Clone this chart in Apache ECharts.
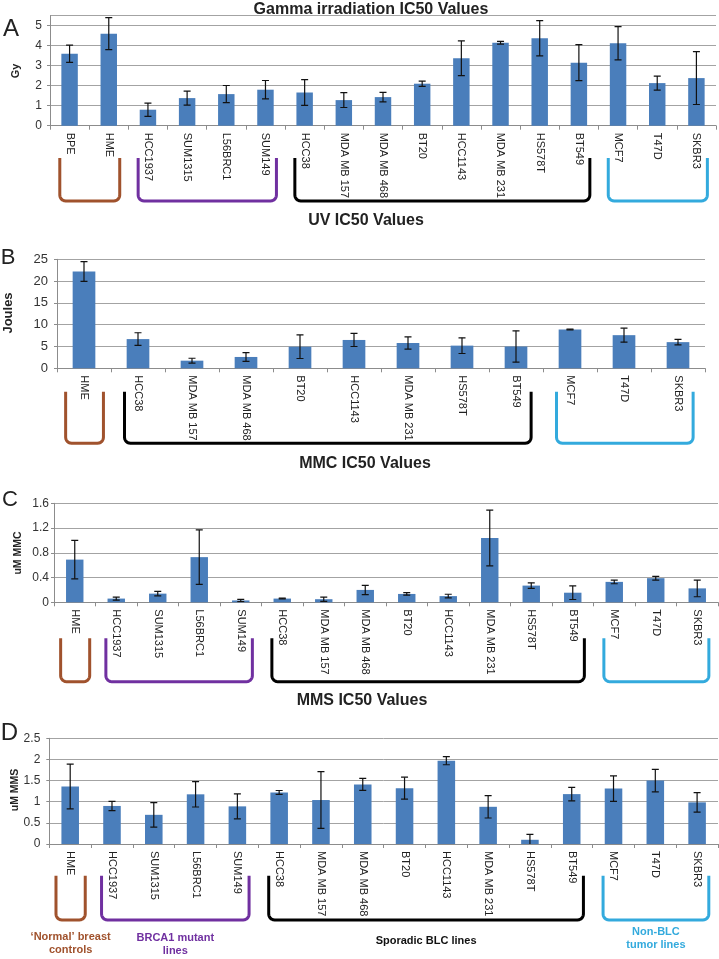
<!DOCTYPE html>
<html>
<head>
<meta charset="utf-8">
<script src="https://cdn.jsdelivr.net/npm/echarts@6/dist/echarts.min.js"></script>
<style>
  html, body { margin: 0; padding: 0; background: #ffffff; }
  #chart { width: 719px; height: 959px; }
</style>
</head>
<body>
<div id="chart"></div>
<script>
// ---------------- DATA ----------------
const gammaCats = ['BPE', 'HME', 'HCC1937', 'SUM1315', 'L56BRC1', 'SUM149', 'HCC38', 'MDA MB 157', 'MDA MB 468', 'BT20', 'HCC1143', 'MDA MB 231', 'HS578T', 'BT549', 'MCF7', 'T47D', 'SKBR3'];
const gammaVals = [3.6, 4.6, 0.8, 1.38, 1.58, 1.8, 1.66, 1.28, 1.43, 2.1, 3.37, 4.15, 4.37, 3.15, 4.12, 2.13, 2.38];
const gammaErr  = [0.43, 0.8, 0.33, 0.35, 0.43, 0.46, 0.64, 0.37, 0.24, 0.13, 0.87, 0.07, 0.88, 0.9, 0.83, 0.35, 1.32];

const uvCats = ['HME', 'HCC38', 'MDA MB 157', 'MDA MB 468', 'BT20', 'HCC1143', 'MDA MB 231', 'HS578T', 'BT549', 'MCF7', 'T47D', 'SKBR3'];
const uvVals = [22.2, 6.7, 1.75, 2.6, 4.95, 6.5, 5.8, 5.2, 5.0, 8.9, 7.6, 6.0];
const uvErr  = [2.25, 1.45, 0.55, 1.0, 2.7, 1.5, 1.4, 1.8, 3.6, 0.1, 1.6, 0.65];

const mmcCats = ['HME', 'HCC1937', 'SUM1315', 'L56BRC1', 'SUM149', 'HCC38', 'MDA MB 157', 'MDA MB 468', 'BT20', 'HCC1143', 'MDA MB 231', 'HS578T', 'BT549', 'MCF7', 'T47D', 'SKBR3'];
const mmcVals = [0.69, 0.06, 0.14, 0.73, 0.03, 0.06, 0.05, 0.2, 0.135, 0.1, 1.04, 0.27, 0.155, 0.33, 0.39, 0.225];
const mmcErr  = [0.31, 0.025, 0.035, 0.44, 0.018, 0.006, 0.035, 0.075, 0.02, 0.03, 0.45, 0.045, 0.11, 0.03, 0.03, 0.135];

const mmsCats = ['HME', 'HCC1937', 'SUM1315', 'L56BRC1', 'SUM149', 'HCC38', 'MDA MB 157', 'MDA MB 468', 'BT20', 'HCC1143', 'MDA MB 231', 'HS578T', 'BT549', 'MCF7', 'T47D', 'SKBR3'];
const mmsVals = [1.36, 0.9, 0.69, 1.175, 0.89, 1.22, 1.04, 1.41, 1.32, 1.97, 0.88, 0.1, 1.18, 1.31, 1.5, 0.985];
const mmsErr  = [0.53, 0.11, 0.29, 0.3, 0.295, 0.045, 0.67, 0.14, 0.26, 0.095, 0.265, 0.13, 0.16, 0.3, 0.265, 0.23];

const panelTitles = ['Gamma irradiation IC50 Values', 'UV IC50 Values', 'MMC IC50 Values', 'MMS IC50 Values'];
const panelLetters = ['A', 'B', 'C', 'D'];
const yNames = ['Gy', 'Joules', 'uM MMC', 'uM MMS'];
const yMax = [5.5, 25, 1.6, 2.5];
const yInterval = [1, 5, 0.4, 0.5];

const groupLabels = ['\u2018Normal\u2019 breast\ncontrols', 'BRCA1 mutant\nlines', 'Sporadic BLC lines', 'Non-BLC\ntumor lines'];
const groupMembers = [
  ['BPE', 'HME'],
  ['HCC1937', 'SUM1315', 'L56BRC1', 'SUM149'],
  ['HCC38', 'MDA MB 157', 'MDA MB 468', 'BT20', 'HCC1143', 'MDA MB 231', 'HS578T', 'BT549'],
  ['MCF7', 'T47D', 'SKBR3']
];

// ---------------- LAYOUT / STYLE ----------------
const FONT = "'Liberation Sans', Arial, Helvetica, sans-serif";
const BAR_COLOR = '#4a7ebb';
const GRID_COLOR = '#a3a3a3';
const AXIS_COLOR = '#8c8c8c';
const TEXT_COLOR = '#333333';
const groupColors = ['#a0522d', '#7030a0', '#000000', '#33aadd'];

const datasets = [
  { cats: gammaCats, vals: gammaVals, errs: gammaErr },
  { cats: uvCats, vals: uvVals, errs: uvErr },
  { cats: mmcCats, vals: mmcVals, errs: mmcErr },
  { cats: mmsCats, vals: mmsVals, errs: mmsErr }
];

const layout = [
  { grid: { left: 50, right: 3, top: 15.7, height: 110 }, ySize: 12, yMargin: 8,
    title: [371, 10], letter: [11, 29, 24], yname: [16, 71, 11], bracket: [158, 201] },
  { grid: { left: 57, right: 14, top: 259.3, height: 109 }, ySize: 13, yMargin: 9,
    title: [366, 221], letter: [8, 258, 22], yname: [8, 313, 13], bracket: [391.7, 443.3] },
  { grid: { left: 54, right: 1, top: 503.3, height: 99 }, ySize: 12, yMargin: 5,
    title: [365, 464], letter: [10, 500, 22], yname: [18, 553, 10.5], bracket: [638.3, 681.7] },
  { grid: { left: 49.3, right: 1, top: 738.3, height: 105.7 }, ySize: 12, yMargin: 9,
    title: [362, 701], letter: [9.5, 733, 24], yname: [15, 790, 10.5], bracket: [875.7, 920] }
];
const groupLabelY = [943.5, 944.5, 941, 938.5];

const chart = echarts.init(document.getElementById('chart'), null, { renderer: 'canvas' });

function errRender(params, api) {
  const x = api.value(0);
  const lo = api.value(1);
  const hi = api.value(2);
  const pHi = api.coord([x, hi]);
  const pLo = api.coord([x, lo]);
  const hw = 3.5;
  const st = { stroke: '#111111', lineWidth: 1.2 };
  return {
    type: 'group',
    children: [
      { type: 'line', shape: { x1: pHi[0], y1: pHi[1], x2: pLo[0], y2: pLo[1] }, style: st },
      { type: 'line', shape: { x1: pHi[0] - hw, y1: pHi[1], x2: pHi[0] + hw, y2: pHi[1] }, style: st },
      { type: 'line', shape: { x1: pLo[0] - hw, y1: pLo[1], x2: pLo[0] + hw, y2: pLo[1] }, style: st }
    ]
  };
}

const grids = [], xAxes = [], yAxes = [], series = [];
datasets.forEach((d, k) => {
  const L = layout[k];
  grids.push(Object.assign({ containLabel: false }, L.grid));
  xAxes.push({
    type: 'category', gridIndex: k, data: d.cats,
    axisLine: { show: true, lineStyle: { color: AXIS_COLOR, width: 1 } },
    axisTick: { show: true, interval: 0, length: 4, lineStyle: { color: AXIS_COLOR } },
    axisLabel: { interval: 0, rotate: -90, fontSize: 11, color: '#222', fontFamily: FONT, margin: 7 },
    splitLine: { show: false }
  });
  const nLines = Math.round(yMax[k] / yInterval[k]) + (yMax[k] % yInterval[k] > 1e-9 ? 2 : 1);
  const lineColors = [];
  for (let i = 0; i < nLines; i++) lineColors.push(GRID_COLOR);
  if (k === 0) lineColors[lineColors.length - 1] = 'rgba(0,0,0,0)';
  yAxes.push({
    type: 'value', gridIndex: k, min: 0, max: yMax[k], interval: yInterval[k],
    axisLine: { show: true, lineStyle: { color: AXIS_COLOR, width: 1 } },
    axisTick: { show: true, length: 3, lineStyle: { color: AXIS_COLOR } },
    axisLabel: { fontSize: L.ySize, color: TEXT_COLOR, fontFamily: FONT, margin: L.yMargin, showMaxLabel: k !== 0 },
    splitLine: { show: true, lineStyle: { color: lineColors, width: 1 } }
  });
  series.push({
    type: 'bar', xAxisIndex: k, yAxisIndex: k, data: d.vals, barWidth: '42%',
    itemStyle: { color: BAR_COLOR }, silent: true
  });
  series.push({
    type: 'custom', xAxisIndex: k, yAxisIndex: k, renderItem: errRender, clip: true, z: 5,
    encode: { x: 0, y: [1, 2] },
    data: d.cats.map((c, i) => [i, d.vals[i] - d.errs[i], d.vals[i] + d.errs[i]])
  });
});

chart.setOption({
  animation: false,
  backgroundColor: '#ffffff',
  grid: grids, xAxis: xAxes, yAxis: yAxes, series: series
});

// ---------------- Annotations (titles, letters, y names, brackets) ----------------
const graphics = [];
datasets.forEach((d, k) => {
  const L = layout[k];
  graphics.push({ type: 'text', x: L.title[0], y: L.title[1], silent: true,
    style: { text: panelTitles[k], fontSize: 16, fontWeight: 'bold', fontFamily: FONT, fill: '#222', textAlign: 'center', textVerticalAlign: 'middle' } });
  graphics.push({ type: 'text', x: L.letter[0], y: L.letter[1], silent: true,
    style: { text: panelLetters[k], fontSize: L.letter[2], fontFamily: FONT, fill: '#222', textAlign: 'center', textVerticalAlign: 'middle' } });
  graphics.push({ type: 'text', x: L.yname[0], y: L.yname[1], rotation: Math.PI / 2, silent: true,
    style: { text: yNames[k], fontSize: L.yname[2], fontWeight: 'bold', fontFamily: FONT, fill: '#222', textAlign: 'center', textVerticalAlign: 'middle' } });

  const c0 = chart.convertToPixel({ xAxisIndex: k }, d.cats[0]);
  const c1 = chart.convertToPixel({ xAxisIndex: k }, d.cats[1]);
  const band = c1 - c0;
  groupMembers.forEach((members, g) => {
    const idx = d.cats.map((c, i) => members.indexOf(c) >= 0 ? i : -1).filter(i => i >= 0);
    if (!idx.length) return;
    const first = chart.convertToPixel({ xAxisIndex: k }, d.cats[idx[0]]);
    const last = chart.convertToPixel({ xAxisIndex: k }, d.cats[idx[idx.length - 1]]);
    let x1, x2;
    if (idx.length === 1) { x1 = first - 0.34 * band; x2 = last + 0.36 * band; }
    else { x1 = first - 0.25 * band; x2 = last + 0.28 * band; }
    const top = L.bracket[0], bot = L.bracket[1], r = 6;
    const pts = [[x1, top], [x1, bot - r]];
    for (let s = 1; s <= 6; s++) {
      const t = s / 6 * Math.PI / 2;
      pts.push([x1 + r - r * Math.cos(t), bot - r + r * Math.sin(t)]);
    }
    pts.push([x2 - r, bot]);
    for (let s = 1; s <= 6; s++) {
      const t = Math.PI / 2 - s / 6 * Math.PI / 2;
      pts.push([x2 - r + r * Math.cos(t), bot - r + r * Math.sin(t)]);
    }
    pts.push([x2, top]);
    graphics.push({ type: 'polyline', silent: true, shape: { points: pts },
      style: { stroke: groupColors[g], lineWidth: 3, fill: 'none', lineJoin: 'round', lineCap: 'butt' } });
    if (k === 3) {
      graphics.push({ type: 'text', x: (x1 + x2) / 2, y: groupLabelY[g], silent: true,
        style: { text: groupLabels[g], fontSize: 11, fontWeight: 'bold', fontFamily: FONT, fill: groupColors[g] === '#000000' ? '#111' : groupColors[g],
          textAlign: 'center', textVerticalAlign: 'middle', lineHeight: 13 } });
    }
  });
});
chart.setOption({ graphic: graphics });
</script>
</body>
</html>
